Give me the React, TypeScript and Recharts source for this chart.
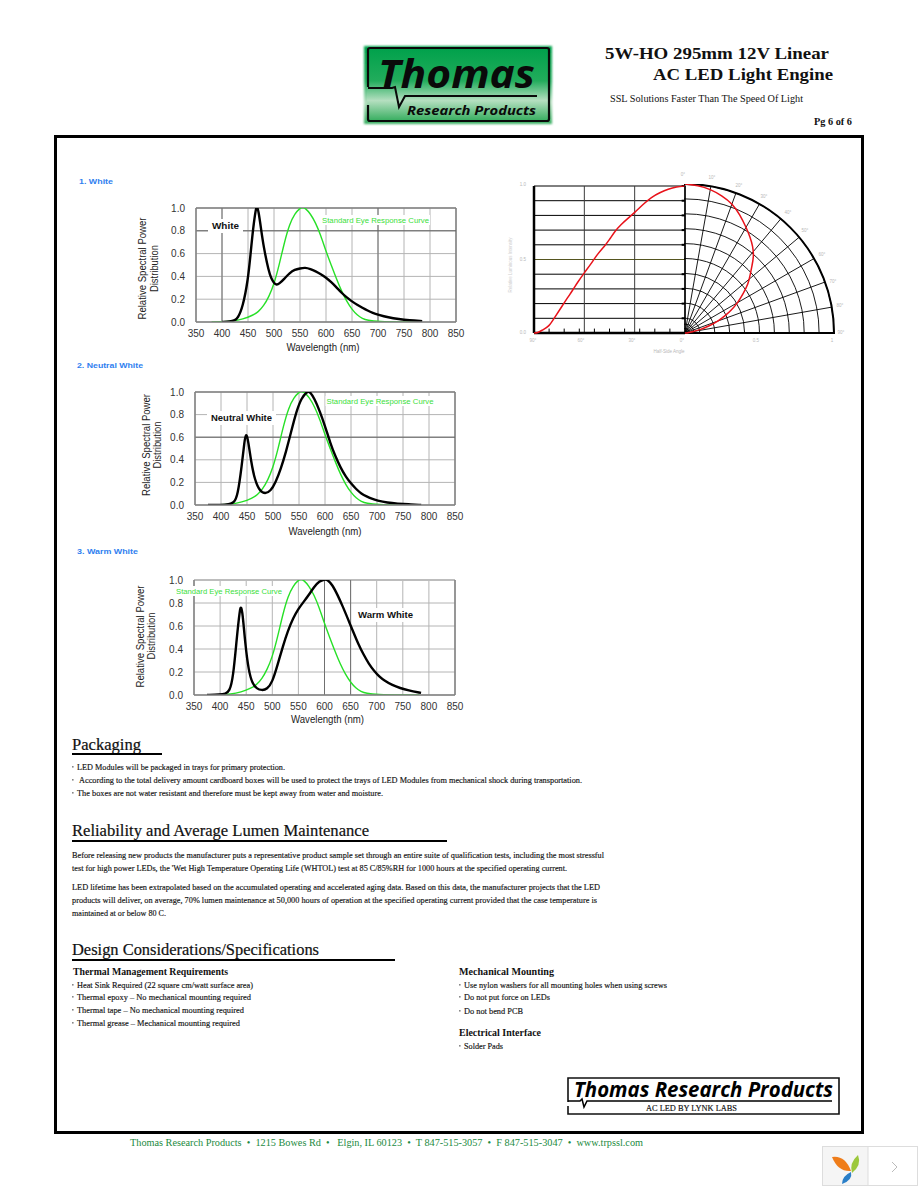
import React from "react";
import {
  LineChart,
  Line,
  XAxis,
  YAxis,
  CartesianGrid,
  ReferenceLine,
  RadarChart,
  Radar,
  PolarGrid,
  PolarAngleAxis,
  PolarRadiusAxis,
  Curve,
} from "recharts";

const wavelengthTicks = [350, 400, 450, 500, 550, 600, 650, 700, 750, 800, 850];
const powerTicks = [0, 0.2, 0.4, 0.6, 0.8, 1];

const eyeWavelengths = [380, 400, 420, 440, 460, 470, 480, 490, 500, 510, 520, 530, 540, 550, 555, 560, 570, 580, 590, 600, 610, 620, 630, 640, 650, 660, 670, 680, 700, 750, 782];
const eyeResponse = [0, 0.001, 0.006, 0.025, 0.06, 0.09, 0.14, 0.22, 0.33, 0.5, 0.7, 0.86, 0.95, 1, 1.005, 1, 0.95, 0.87, 0.76, 0.62, 0.5, 0.38, 0.27, 0.18, 0.11, 0.06, 0.03, 0.015, 0.004, 0, 0];

const whiteWavelengths = [400, 415, 425, 430, 440, 450, 455, 460, 465, 467, 470, 475, 480, 490, 495, 500, 505, 510, 520, 530, 540, 550, 560, 570, 580, 590, 600, 610, 620, 630, 640, 650, 660, 670, 680, 690, 700, 720, 740, 760, 785];
const whitePower = [0, 0.003, 0.015, 0.03, 0.13, 0.37, 0.6, 0.83, 0.99, 1.02, 0.98, 0.82, 0.66, 0.44, 0.38, 0.34, 0.325, 0.335, 0.38, 0.43, 0.46, 0.47, 0.478, 0.465, 0.445, 0.42, 0.39, 0.35, 0.305, 0.255, 0.215, 0.18, 0.15, 0.125, 0.1, 0.08, 0.065, 0.04, 0.025, 0.015, 0.008];

const neutralWavelengths = [375, 400, 415, 425, 432, 440, 445, 448, 452, 458, 465, 475, 485, 495, 505, 515, 525, 535, 545, 555, 565, 570, 580, 590, 600, 610, 620, 630, 640, 650, 660, 670, 680, 690, 700, 720, 740, 760, 785];
const neutralPower = [0, 0, 0.005, 0.02, 0.08, 0.35, 0.56, 0.64, 0.58, 0.38, 0.22, 0.12, 0.1, 0.12, 0.2, 0.32, 0.47, 0.65, 0.83, 0.95, 1, 1.01, 0.94, 0.83, 0.7, 0.55, 0.43, 0.33, 0.25, 0.19, 0.14, 0.1, 0.075, 0.055, 0.04, 0.02, 0.012, 0.007, 0];

const warmWavelengths = [375, 400, 410, 418, 425, 432, 438, 440, 443, 448, 455, 462, 470, 480, 490, 500, 510, 520, 530, 540, 550, 560, 570, 580, 590, 600, 605, 615, 625, 635, 645, 655, 665, 675, 685, 695, 705, 715, 730, 745, 760, 785];
const warmPower = [0, 0.005, 0.01, 0.03, 0.15, 0.5, 0.75, 0.77, 0.72, 0.45, 0.2, 0.1, 0.055, 0.04, 0.05, 0.11, 0.26, 0.42, 0.56, 0.67, 0.75, 0.81, 0.87, 0.94, 0.99, 1.005, 1.005, 0.96, 0.87, 0.77, 0.66, 0.55, 0.44, 0.35, 0.27, 0.21, 0.16, 0.125, 0.085, 0.06, 0.04, 0.018];

const beamAngles = [90, 88, 85, 81, 78, 74, 70, 67, 64, 60, 56, 52, 48, 45, 42, 38, 34, 30, 25, 20, 15, 10, 5, 0];
const beamIntensity = [0, 0, 0.02, 0.045, 0.1, 0.17, 0.24, 0.29, 0.345, 0.41, 0.47, 0.54, 0.59, 0.635, 0.69, 0.74, 0.78, 0.82, 0.875, 0.925, 0.955, 0.98, 0.995, 1];
const polarRings = [0.03, 0.06, 0.1, 0.2, 0.3, 0.4, 0.5, 0.6, 0.7, 0.8, 0.9, 1];
const polarSpokes = [0, 10, 20, 30, 40, 50, 60, 70, 80, 90];
const sideTicks = [-81, -72, -63, -54, -45, -36, -27, -18, -9];
const intensityLines = [0.1, 0.2, 0.3, 0.4, 0.6, 0.7, 0.8, 0.9, 1];

const zip = (xs: number[], ys: number[]) => xs.map((x, i) => ({ x, y: ys[i] }));
const eyeCurve = zip(eyeWavelengths, eyeResponse);

const SANS = "'Liberation Sans', Arial, sans-serif";
const SERIF = "'Liberation Serif', 'Times New Roman', serif";
const LOGO = "'Open Sans', 'Liberation Sans', sans-serif";

function SpectrumChart({ left, top, width, height, power, darkX = [], darkY = [], lightTop = false }: any) {
  const tick = { fontSize: 10, fill: "#333", fontFamily: SANS };
  return (
    <div style={{ position: "absolute", left: left - 45, top: top - 8, width: width + 65, height: height + 33 }}>
      <LineChart width={width + 65} height={height + 33} margin={{ top: 8, right: 20, bottom: 0, left: 0 }}>
        <CartesianGrid stroke="#b4b4b4" strokeWidth={1} />
        <XAxis
          type="number"
          dataKey="x"
          domain={[350, 850]}
          ticks={wavelengthTicks}
          interval={0}
          height={25}
          tickSize={0}
          tickMargin={8}
          tick={tick}
          axisLine={{ stroke: "#808080", strokeWidth: 1.5 }}
          tickLine={false}
        />
        <YAxis
          type="number"
          domain={[0, 1]}
          allowDataOverflow
          ticks={powerTicks}
          interval={0}
          width={45}
          tickSize={0}
          tickMargin={11}
          tick={tick}
          tickFormatter={(v: number) => v.toFixed(1)}
          axisLine={{ stroke: "#808080", strokeWidth: 1.5 }}
          tickLine={false}
        />
        <ReferenceLine y={1} stroke={lightTop ? "#bdbdbd" : "#808080"} strokeWidth={lightTop ? 2 : 1.5} />
        <ReferenceLine x={850} stroke="#808080" strokeWidth={1.5} />
        {darkX.map((x: number) => (
          <ReferenceLine key={x} x={x} stroke="#707070" />
        ))}
        {darkY.map((y: number) => (
          <ReferenceLine key={y} y={y} stroke="#606060" />
        ))}
        <Line data={eyeCurve} dataKey="y" type="basis" stroke="#27e027" strokeWidth={1.4} dot={false} isAnimationActive={false} />
        <Line data={power} dataKey="y" type="basis" stroke="#000" strokeWidth={2.4} dot={false} isAnimationActive={false} />
      </LineChart>
    </div>
  );
}

function BeamChart() {
  const sideData = zip(beamAngles.map((a) => -a), beamIntensity);
  const polarData = beamAngles.map((a, i) => ({ angle: a, value: beamIntensity[i] }));
  const radius = 149;
  return (
    <>
      <div style={{ position: "absolute", left: 529, top: 181, width: 160 }}>
        <LineChart width={160} height={158} margin={{ top: 5, right: 4, bottom: 6, left: 5 }}>
          <XAxis hide type="number" dataKey="x" domain={[-90, 0]} />
          <YAxis hide type="number" domain={[0, 1]} />
          {intensityLines.map((y) => (
            <ReferenceLine key={y} y={y} stroke="#000" strokeWidth={1} />
          ))}
          <ReferenceLine y={0.5} stroke="#55551f" />
          <ReferenceLine x={-60} stroke="#3c3c3c" />
          <ReferenceLine x={-30} stroke="#3c3c3c" />
          <ReferenceLine x={0} stroke="#000" strokeWidth={1.5} />
          <ReferenceLine x={-90} stroke="#000" strokeWidth={2.5} />
          <ReferenceLine y={0} stroke="#000" strokeWidth={2.5} />
          {sideTicks.map((x) => (
            <ReferenceLine key={x} segment={[{ x, y: 0 }, { x, y: 0.03 }]} stroke="#000" strokeWidth={1} />
          ))}
          {intensityLines.map((y) => (
            <ReferenceLine key={y} segment={[{ x: -2, y }, { x: 0, y }]} stroke="#000" strokeWidth={2} />
          ))}
          <Line data={sideData} dataKey="y" type="basis" stroke="#e8121a" strokeWidth={1.5} dot={false} isAnimationActive={false} />
        </LineChart>
      </div>
      <div style={{ position: "absolute", left: 684, top: 184, width: 153, height: 150 }}>
        <RadarChart
          width={153}
          height={150}
          cx={1}
          cy={149}
          innerRadius={0}
          outerRadius={radius}
          startAngle={90}
          endAngle={0}
          data={polarData}
          margin={{ top: 0, right: 0, bottom: 0, left: 0 }}
        >
          <PolarGrid
            gridType="circle"
            stroke="#000"
            strokeWidth={0.9}
            polarAngles={polarSpokes}
            polarRadius={polarRings.map((r) => r * radius)}
          />
          <PolarGrid gridType="circle" stroke="#000" strokeWidth={2} polarAngles={[0]} polarRadius={[radius]} />
          <PolarAngleAxis type="number" dataKey="angle" domain={[0, 90]} tick={false} axisLine={false} tickLine={false} />
          <PolarRadiusAxis type="number" domain={[0, 1]} tick={false} axisLine={false} tickLine={false} />
          <Radar
            dataKey="value"
            isAnimationActive={false}
            shape={(p: any) => <Curve type="basis" points={p.points} fill="none" stroke="#e8121a" strokeWidth={1.5} />}
          />
        </RadarChart>
      </div>
    </>
  );
}

function T({ x, y, w, size = 8.5, bold = false, italic = false, sans = false, font, fill = "#111", anchor = "start", rotate, heavy = 0, children }: any) {
  return (
    <text
      x={x}
      y={y}
      textLength={w}
      lengthAdjust={w ? "spacingAndGlyphs" : undefined}
      fontSize={size}
      fontWeight={bold ? 700 : 400}
      fontStyle={italic ? "italic" : "normal"}
      fontFamily={font || (sans ? SANS : SERIF)}
      fill={fill}
      stroke={heavy ? fill : undefined}
      strokeWidth={heavy || undefined}
      textAnchor={anchor}
      transform={rotate ? `rotate(${rotate} ${x} ${y})` : undefined}
      style={{ whiteSpace: "pre" }}
    >
      {children}
    </text>
  );
}

function Bullet({ x, y, tx, end, children }: any) {
  return (
    <>
      <rect x={x} y={y - 4} width={1.6} height={1.6} fill="#888" />
      <T x={tx} y={y} w={end - tx} heavy={0.15}>{children}</T>
    </>
  );
}

function Rotated({ x, y, len, children }: any) {
  return <T x={x} y={y + len / 2} w={len} size={10} sans rotate={-90} fill="#222">{children}</T>;
}

function GreenLabel({ x, y, w, children }: any) {
  return (
    <>
      <rect x={x - 1} y={y - 5} width={w + 2} height={10} fill="#fff" />
      <T x={x} y={y + 3} w={w} size={8} sans fill="#3be03b">{children}</T>
    </>
  );
}

function BlackLabel({ x, y, w, children }: any) {
  return (
    <>
      <rect x={x - 4} y={y - 7} width={w + 8} height={14} fill="#fff" />
      <T x={x} y={y + 3} w={w} size={9.5} sans bold fill="#111">{children}</T>
    </>
  );
}

const faint = { size: 4.5, sans: true, fill: "#b8b8b8", anchor: "middle" };
const polarLabels: [string, number, number][] = [
  ["0°", 683, 176], ["10°", 712, 179], ["20°", 739, 187], ["30°", 764, 198], ["40°", 788, 214],
  ["50°", 805, 232], ["60°", 822, 256], ["70°", 833, 283], ["80°", 840, 307], ["90°", 841, 334],
  ["1.0", 523, 186], ["0.5", 523, 261], ["0.0", 523, 334], ["90°", 533, 342], ["60°", 581, 342],
  ["30°", 632, 342], ["0°", 682, 342], ["0.5", 756, 342], ["1", 832, 342],
];

function Page() {
  return (
    <svg width={918} height={1188} style={{ position: "absolute", left: 0, top: 0, pointerEvents: "none" }}>
      <defs>
        <linearGradient id="logoFill" x1="0" y1="0" x2="0" y2="1">
          <stop offset="0" stopColor="#00a14b" />
          <stop offset="0.45" stopColor="#22ac5c" />
          <stop offset="0.72" stopColor="#b5dfc0" />
          <stop offset="1" stopColor="#35ad5e" />
        </linearGradient>
        <filter id="logoGlow" x="-5%" y="-10%" width="110%" height="120%">
          <feGaussianBlur stdDeviation="1.2" />
        </filter>
      </defs>

      {/* header */}
      <rect x={364} y={46} width={188} height={78} fill="url(#logoFill)" filter="url(#logoGlow)" />
      <rect x={367} y={48} width={182} height={73} fill="url(#logoFill)" />
      <path d="M368,87 V50 Q368,48 370,48 H547 Q549,48 549,50 V119 Q549,121 547,121 H370 Q368,121 368,119 V105" fill="none" stroke="#0a0a0a" strokeWidth={2.2} />
      <polyline points="368,88 392,88 395,87 399,107 405,96 537,96" fill="none" stroke="#0a0a0a" strokeWidth={2} />
      <T x={378} y={88} w={157} size={40} font={LOGO} bold italic fill="#0a0a0a">Thomas</T>
      <T x={407} y={114.5} w={129} size={13} font={LOGO} bold italic fill="#0a0a0a">Research Products</T>
      <T x={605} y={59} w={224} size={17.5} bold>5W-HO 295mm 12V Linear</T>
      <T x={653} y={80} w={180} size={17.5} bold>AC LED Light Engine</T>
      <T x={610} y={102} w={193} size={9.5}>SSL Solutions Faster Than The Speed Of Light</T>
      <T x={814} y={125} w={38} size={9.5} bold>Pg 6 of 6</T>

      {/* frame */}
      <rect x={55.5} y={136.5} width={807} height={996} fill="none" stroke="#000" strokeWidth={3} />

      {/* section tags */}
      <T x={79} y={184} w={34} size={8} sans bold fill="#2f7fef">1. White</T>
      <T x={77} y={368} w={66} size={8} sans bold fill="#2f7fef">2. Neutral White</T>
      <T x={77} y={554} w={61} size={8} sans bold fill="#2f7fef">3. Warm White</T>

      {/* chart annotations */}
      <BlackLabel x={212} y={226} w={27}>White</BlackLabel>
      <GreenLabel x={322} y={220} w={107}>Standard Eye Response Curve</GreenLabel>
      <Rotated x={146} y={268.5} len={102}>Relative Spectral Power</Rotated>
      <Rotated x={157.5} y={268.5} len={47}>Distribution</Rotated>
      <T x={323} y={351} w={73} size={10} sans anchor="middle" fill="#222">Wavelength (nm)</T>

      <BlackLabel x={211} y={418} w={61}>Neutral White</BlackLabel>
      <GreenLabel x={326.5} y={401} w={107}>Standard Eye Response Curve</GreenLabel>
      <Rotated x={149.5} y={445} len={102}>Relative Spectral Power</Rotated>
      <Rotated x={160.5} y={445} len={47}>Distribution</Rotated>
      <T x={325} y={535} w={73} size={10} sans anchor="middle" fill="#222">Wavelength (nm)</T>

      <BlackLabel x={358} y={615} w={55}>Warm White</BlackLabel>
      <GreenLabel x={176} y={591} w={106}>Standard Eye Response Curve</GreenLabel>
      <Rotated x={143.5} y={636.5} len={102}>Relative Spectral Power</Rotated>
      <Rotated x={154.5} y={636} len={47}>Distribution</Rotated>
      <T x={327.5} y={723} w={73} size={10} sans anchor="middle" fill="#222">Wavelength (nm)</T>

      {polarLabels.map(([s, x, y], i) => (
        <T key={i} x={x} y={y} {...faint}>{s}</T>
      ))}
      <T x={669} y={353} {...faint}>Half-Side Angle</T>
      <T x={512} y={265} size={4.5} sans fill="#cfcfcf" anchor="middle" rotate={-90}>Relative Luminous Intensity</T>

      {/* packaging */}
      <T x={72} y={750} w={69} size={16} heavy={0.2}>Packaging</T>
      <rect x={72} y={753} width={90} height={2} fill="#000" />
      <Bullet x={72} y={770} tx={77} end={285}>LED Modules will be packaged in trays for primary protection.</Bullet>
      <Bullet x={72} y={783} tx={79} end={582}>According to the total delivery amount cardboard boxes will be used to protect the trays of LED Modules from mechanical shock during transportation.</Bullet>
      <Bullet x={72} y={796} tx={77} end={383}>The boxes are not water resistant and therefore must be kept away from water and moisture.</Bullet>

      {/* reliability */}
      <T x={72} y={836} w={297} size={16} heavy={0.2}>Reliability and Average Lumen Maintenance</T>
      <rect x={72} y={840} width={375} height={2} fill="#000" />
      <T x={72} y={858} w={532} heavy={0.15}>Before releasing new products the manufacturer puts a representative product sample set through an entire suite of qualification tests, including the most stressful</T>
      <T x={72} y={871} w={495} heavy={0.15}>test for high power LEDs, the 'Wet High Temperature Operating Life (WHTOL) test at 85 C/85%RH for 1000 hours at the specified operating current.</T>
      <T x={72} y={890} w={528} heavy={0.15}>LED lifetime has been extrapolated based on the accumulated operating and accelerated aging data. Based on this data, the manufacturer projects that the LED</T>
      <T x={72} y={903} w={525} heavy={0.15}>products will deliver, on average, 70% lumen maintenance at 50,000 hours of operation at the specified operating current provided that the case temperature is</T>
      <T x={72} y={916} w={94} heavy={0.15}>maintained at or below 80 C.</T>

      {/* design */}
      <T x={72} y={955} w={247} size={16} heavy={0.2}>Design Considerations/Specifications</T>
      <rect x={72} y={959} width={323} height={2} fill="#000" />
      <T x={73} y={975} w={155} size={9.5} bold>Thermal Management Requirements</T>
      <Bullet x={72} y={988} tx={77} end={253}>Heat Sink Required (22 square cm/watt surface area)</Bullet>
      <Bullet x={72} y={1000} tx={77} end={251}>Thermal epoxy – No mechanical mounting required</Bullet>
      <Bullet x={72} y={1013} tx={77} end={244}>Thermal tape – No mechanical mounting required</Bullet>
      <Bullet x={72} y={1026} tx={77} end={240}>Thermal grease – Mechanical mounting required</Bullet>
      <T x={459} y={975} w={95} size={9.5} bold>Mechanical Mounting</T>
      <Bullet x={459} y={988} tx={464} end={667}>Use nylon washers for all mounting holes when using screws</Bullet>
      <Bullet x={459} y={1000} tx={464} end={550}>Do not put force on LEDs</Bullet>
      <Bullet x={459} y={1014} tx={464} end={523}>Do not bend PCB</Bullet>
      <T x={459} y={1036} w={82} size={9.5} bold>Electrical Interface</T>
      <Bullet x={459} y={1049} tx={464} end={503}>Solder Pads</Bullet>

      {/* footer logo */}
      <path d="M568,1102 V1078 H839 V1114 H568 V1106" fill="none" stroke="#111" strokeWidth={1.6} />
      <polyline points="568,1101 580,1101 582,1099 584,1107 587,1101 832,1101" fill="none" stroke="#000" strokeWidth={1.5} />
      <T x={574} y={1097} w={259} size={21} font={LOGO} bold italic fill="#000">Thomas Research Products</T>
      <T x={646} y={1111} w={91} size={8} heavy={0.15}>AC LED BY LYNK LABS</T>

      {/* footer */}
      <T x={130} y={1146} w={513} size={10} fill="#1b8a41">Thomas Research Products  •  1215 Bowes Rd  •   Elgin, IL 60123  •  T 847-515-3057  •  F 847-515-3047  •  www.trpssl.com</T>

      {/* corner tile */}
      <rect x={822.5} y={1146.5} width={95} height={39} fill="#fff" stroke="#ddd" />
      <rect x={823} y={1147} width={45} height={38} fill="#f5f5f5" />
      <line x1={868} y1={1146} x2={868} y2={1186} stroke="#ddd" />
      <path d="M832,1157 Q845,1155 851,1171 Q838,1172 832,1157 Z" fill="#ef7d1a" />
      <path d="M858,1155 Q862,1165 852,1173 Q849,1163 858,1155 Z" fill="#9cc83c" />
      <path d="M851,1172 Q853,1180 842,1184 Q842,1176 851,1172 Z" fill="#2a7fc8" />
      <polyline points="892,1162 897,1167 892,1172" fill="none" stroke="#bbb" strokeWidth={1} />
    </svg>
  );
}

export default function App() {
  return (
    <div style={{ position: "absolute", left: 0, top: 0, width: 918, height: 1188, background: "#fff", overflow: "hidden" }}>
      <SpectrumChart left={196} top={208} width={260} height={114} power={zip(whiteWavelengths, whitePower)} darkX={[400, 700]} darkY={[0.8]} />
      <SpectrumChart left={195} top={392} width={260} height={113} power={zip(neutralWavelengths, neutralPower)} darkY={[0.6]} />
      <SpectrumChart left={194} top={580} width={261} height={115} power={zip(warmWavelengths, warmPower)} darkX={[600, 650]} lightTop />
      <BeamChart />
      <Page />
    </div>
  );
}
